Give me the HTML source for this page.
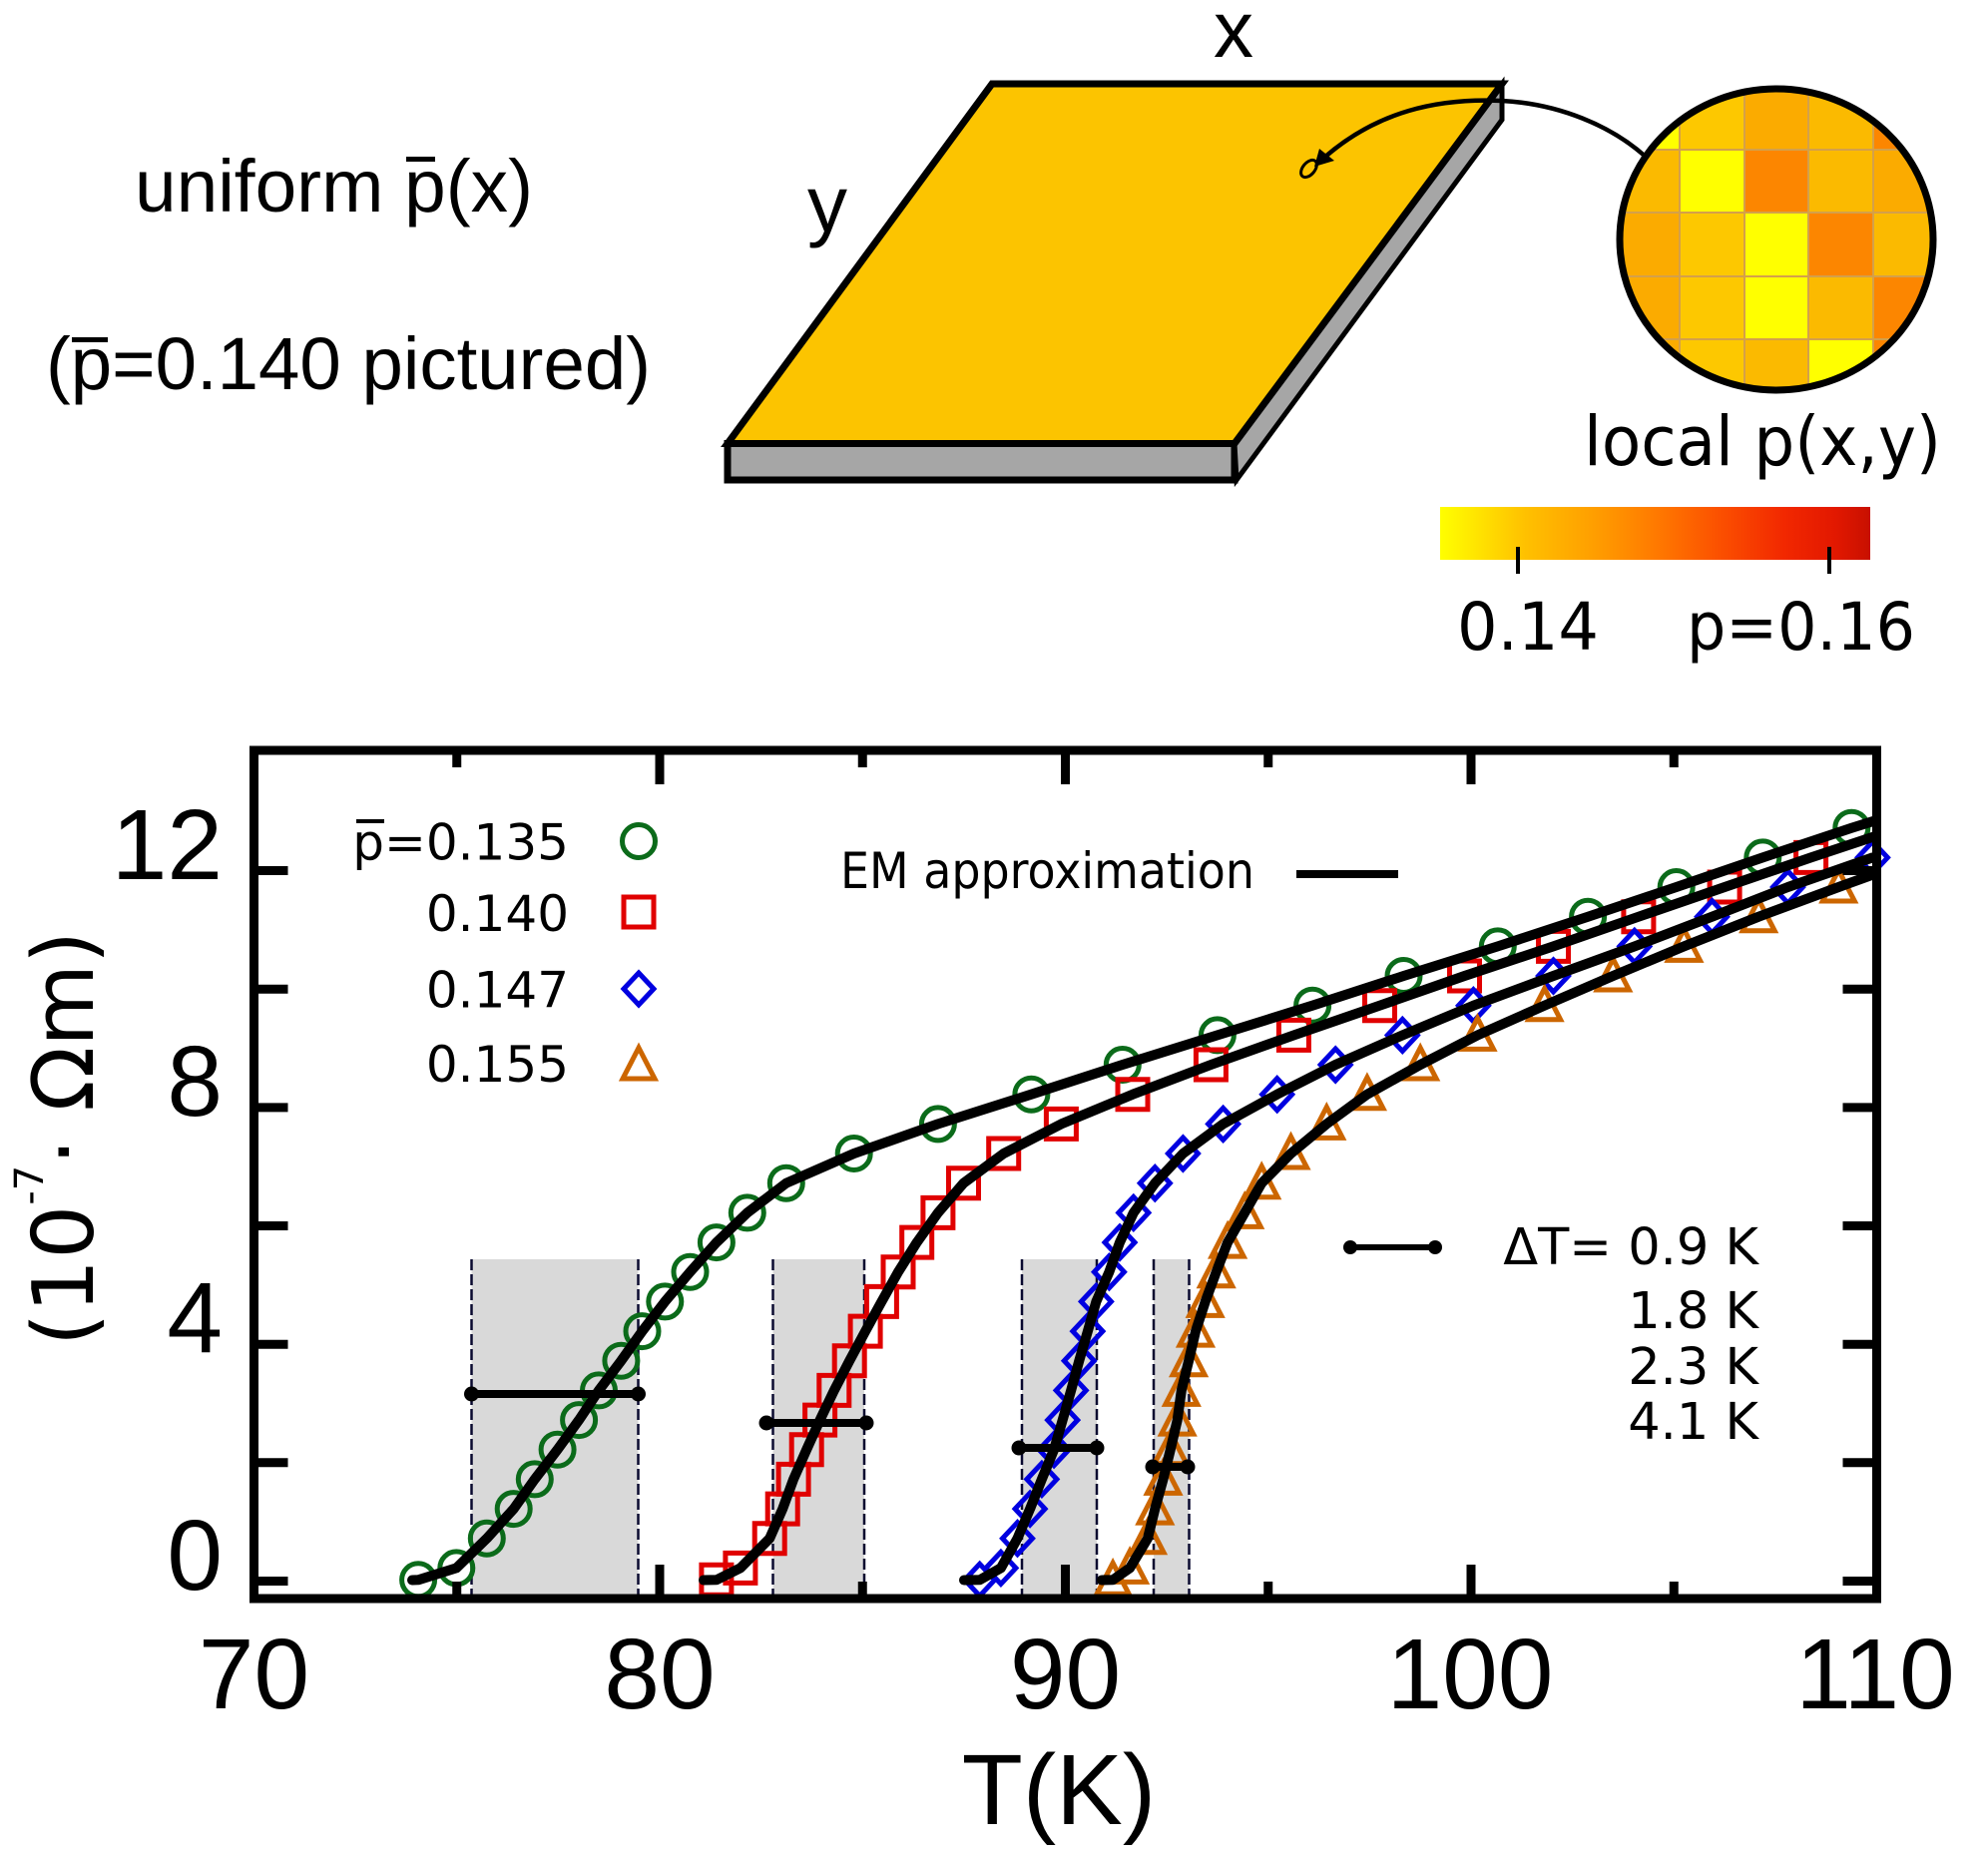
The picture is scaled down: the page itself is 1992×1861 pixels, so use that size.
<!DOCTYPE html>
<html><head><meta charset="utf-8"><style>
html,body{margin:0;padding:0;background:#fff;}
svg{display:block;}
.lib{font-family:"Liberation Sans",Arial,sans-serif;}
.dv{font-family:"DejaVu Sans","Liberation Sans",sans-serif;}
</style></head><body>
<svg width="1992" height="1861" viewBox="0 0 1992 1861" xmlns="http://www.w3.org/2000/svg">
<defs>
<clipPath id="circ"><ellipse cx="1780" cy="240" rx="157" ry="151"/></clipPath>
<clipPath id="plot"><rect x="254.5" y="752" width="1626" height="850"/></clipPath>
<linearGradient id="cb" x1="0" x2="1" y1="0" y2="0">
<stop offset="0" stop-color="#ffff00"/><stop offset="0.08" stop-color="#ffe600"/><stop offset="0.2" stop-color="#ffc000"/><stop offset="0.35" stop-color="#ffa000"/><stop offset="0.5" stop-color="#ff7a00"/><stop offset="0.65" stop-color="#fb5000"/><stop offset="0.8" stop-color="#f22800"/><stop offset="0.92" stop-color="#e21800"/><stop offset="1" stop-color="#c81000"/>
</linearGradient>
</defs>
<rect width="1992" height="1861" fill="#fff"/>

<!-- left texts -->
<text class="lib" x="135" y="212" font-size="74" textLength="399" lengthAdjust="spacingAndGlyphs">uniform p(x)</text>
<rect x="407" y="157" width="29" height="5" fill="#000"/>
<text class="lib" x="46" y="390" font-size="74" textLength="606" lengthAdjust="spacingAndGlyphs">(p=0.140 pictured)</text>
<rect x="72" y="338" width="36" height="5" fill="#000"/>

<!-- slab -->
<polygon points="729,444.5 1237,444.5 1237,481 729,481" fill="#a6a6a6" stroke="#000" stroke-width="7" stroke-linejoin="miter"/>
<polygon points="1505,84 1505,120 1239,481 1237,444.5" fill="#a6a6a6" stroke="#000" stroke-width="5"/>
<polygon points="994,84 1505,84 1237,444.5 729,444.5" fill="#fcc400" stroke="#000" stroke-width="7" stroke-linejoin="miter"/>
<text class="lib" x="1236" y="57" font-size="80" text-anchor="middle">x</text>
<text class="lib" x="829" y="232" font-size="80" text-anchor="middle">y</text>

<!-- arrow curve -->
<path d="M1328,157 C1380,112 1440,98 1505,101 C1562,104 1615,126 1650,158" fill="none" stroke="#000" stroke-width="4.5"/>
<polygon points="1317,167 1322,149 1337,161" fill="#000"/>
<ellipse cx="1311.5" cy="169" rx="10" ry="6" transform="rotate(-50 1311.5 169)" fill="none" stroke="#000" stroke-width="3"/>

<!-- circle zoom -->
<g clip-path="url(#circ)">
<rect x="1600" y="70" width="360" height="350" fill="#fbba00"/>
<rect x="1619" y="87" width="64" height="63" fill="#ffff00"/>
<rect x="1683" y="87" width="65" height="63" fill="#fdc800"/>
<rect x="1748" y="87" width="64" height="63" fill="#fbab00"/>
<rect x="1812" y="87" width="65" height="63" fill="#fbba00"/>
<rect x="1877" y="87" width="64" height="63" fill="#fc8600"/>
<rect x="1619" y="150" width="64" height="63" fill="#fbba00"/>
<rect x="1683" y="150" width="65" height="63" fill="#ffff00"/>
<rect x="1748" y="150" width="64" height="63" fill="#fc8600"/>
<rect x="1812" y="150" width="65" height="63" fill="#fbba00"/>
<rect x="1877" y="150" width="64" height="63" fill="#fbab00"/>
<rect x="1619" y="213" width="64" height="64" fill="#fbab00"/>
<rect x="1683" y="213" width="65" height="64" fill="#fdc800"/>
<rect x="1748" y="213" width="64" height="64" fill="#ffff00"/>
<rect x="1812" y="213" width="65" height="64" fill="#fc8600"/>
<rect x="1877" y="213" width="64" height="64" fill="#fbba00"/>
<rect x="1619" y="277" width="64" height="63" fill="#fbab00"/>
<rect x="1683" y="277" width="65" height="63" fill="#fdc800"/>
<rect x="1748" y="277" width="64" height="63" fill="#ffff00"/>
<rect x="1812" y="277" width="65" height="63" fill="#fbba00"/>
<rect x="1877" y="277" width="64" height="63" fill="#fc8600"/>
<rect x="1619" y="340" width="64" height="63" fill="#fbab00"/>
<rect x="1683" y="340" width="65" height="63" fill="#fdc800"/>
<rect x="1748" y="340" width="64" height="63" fill="#fbba00"/>
<rect x="1812" y="340" width="65" height="63" fill="#ffff00"/>
<rect x="1877" y="340" width="64" height="63" fill="#fc8600"/>
<g stroke="#d4a04a" stroke-width="2">
<line x1="1683" y1="70" x2="1683" y2="420"/><line x1="1748" y1="70" x2="1748" y2="420"/><line x1="1812" y1="70" x2="1812" y2="420"/><line x1="1877" y1="70" x2="1877" y2="420"/>
<line x1="1600" y1="150" x2="1960" y2="150"/><line x1="1600" y1="213" x2="1960" y2="213"/><line x1="1600" y1="277" x2="1960" y2="277"/><line x1="1600" y1="340" x2="1960" y2="340"/>
</g>
</g>
<ellipse cx="1780" cy="240" rx="157" ry="151" fill="none" stroke="#000" stroke-width="7"/>

<text class="dv" x="1587" y="466" font-size="69" textLength="358" lengthAdjust="spacingAndGlyphs">local p(x,y)</text>

<!-- colorbar -->
<rect x="1443" y="508" width="431" height="53" fill="url(#cb)"/>
<rect x="1519" y="548" width="4" height="27" fill="#000"/>
<rect x="1831" y="548" width="4" height="27" fill="#000"/>
<text class="dv" x="1460" y="651" font-size="66" textLength="142" lengthAdjust="spacingAndGlyphs">0.14</text>
<text class="dv" x="1690" y="651" font-size="66" textLength="229" lengthAdjust="spacingAndGlyphs">p=0.16</text>

<!-- ======== PLOT ======== -->
<g fill="#d9d9d9">
<rect x="472.5" y="1262" width="167" height="336"/>
<rect x="774.5" y="1262" width="91.5" height="336"/>
<rect x="1024" y="1262" width="75" height="336"/>
<rect x="1156" y="1262" width="35.5" height="336"/>
</g>
<g stroke="#0a0a30" stroke-width="2.5" stroke-dasharray="11 4">
<line x1="472.5" y1="1262" x2="472.5" y2="1598"/><line x1="639.5" y1="1262" x2="639.5" y2="1598"/>
<line x1="774.5" y1="1262" x2="774.5" y2="1598"/><line x1="866" y1="1262" x2="866" y2="1598"/>
<line x1="1024" y1="1262" x2="1024" y2="1598"/><line x1="1099" y1="1262" x2="1099" y2="1598"/>
<line x1="1156" y1="1262" x2="1156" y2="1598"/><line x1="1191.5" y1="1262" x2="1191.5" y2="1598"/>
</g>

<!-- markers -->
<g fill="none" stroke="#0b6b1a" stroke-width="5">
<circle cx="419.1" cy="1583.3" r="16.5"/><circle cx="457.3" cy="1571.4" r="16.5"/><circle cx="487.8" cy="1541.7" r="16.5"/><circle cx="514.7" cy="1512.1" r="16.5"/><circle cx="535.8" cy="1482.4" r="16.5"/><circle cx="558.6" cy="1452.7" r="16.5"/><circle cx="580.1" cy="1423.1" r="16.5"/><circle cx="600" cy="1393.4" r="16.5"/><circle cx="622.4" cy="1363.7" r="16.5"/><circle cx="643.5" cy="1334.1" r="16.5"/><circle cx="666.3" cy="1304.4" r="16.5"/><circle cx="691.5" cy="1274.7" r="16.5"/><circle cx="717.9" cy="1245.1" r="16.5"/><circle cx="748.8" cy="1215.4" r="16.5"/><circle cx="787.8" cy="1185.7" r="16.5"/><circle cx="855.7" cy="1156" r="16.5"/><circle cx="939.9" cy="1126.4" r="16.5"/><circle cx="1033.4" cy="1096.7" r="16.5"/><circle cx="1124.8" cy="1067" r="16.5"/><circle cx="1219.9" cy="1037.4" r="16.5"/><circle cx="1315.1" cy="1007.7" r="16.5"/><circle cx="1406.5" cy="978" r="16.5"/><circle cx="1500.8" cy="948.4" r="16.5"/><circle cx="1591.1" cy="918.7" r="16.5"/><circle cx="1679.7" cy="889" r="16.5"/><circle cx="1766.3" cy="859.4" r="16.5"/><circle cx="1855.3" cy="829.7" r="16.5"/>
</g>
<path fill="none" stroke="#e00000" stroke-width="5" d="M702.9,1568.3h30v30h-30zM726.9,1556.4h30v30h-30zM756.2,1526.7h30v30h-30zM769.2,1497.1h30v30h-30zM780.1,1467.4h30v30h-30zM793.2,1437.7h30v30h-30zM806.6,1408.1h30v30h-30zM820.8,1378.4h30v30h-30zM836.2,1348.7h30v30h-30zM852.1,1319.1h30v30h-30zM868.4,1289.4h30v30h-30zM885,1259.7h30v30h-30zM903.7,1230.1h30v30h-30zM924.9,1200.4h30v30h-30zM950.5,1170.7h30v30h-30zM990.7,1141h30v30h-30zM1048.4,1111.4h30v30h-30zM1120,1081.7h30v30h-30zM1198.4,1052h30v30h-30zM1281.4,1022.4h30v30h-30zM1367.5,992.7h30v30h-30zM1452.5,963h30v30h-30zM1541.5,933.4h30v30h-30zM1626.9,903.7h30v30h-30zM1713.1,874h30v30h-30zM1799.6,844.4h30v30h-30z"/>
<path fill="none" stroke="#0000e0" stroke-width="5" stroke-linejoin="miter" d="M981.7,1567.3l15,16l-15,16l-15,-16zM1002.9,1555.4l15,16l-15,16l-15,-16zM1019.5,1525.7l15,16l-15,16l-15,-16zM1032.1,1496.1l15,16l-15,16l-15,-16zM1043.9,1466.4l15,16l-15,16l-15,-16zM1056.1,1436.7l15,16l-15,16l-15,-16zM1064.7,1407.1l15,16l-15,16l-15,-16zM1073.2,1377.4l15,16l-15,16l-15,-16zM1081.3,1347.7l15,16l-15,16l-15,-16zM1089.9,1318.1l15,16l-15,16l-15,-16zM1098.4,1288.4l15,16l-15,16l-15,-16zM1111.4,1258.7l15,16l-15,16l-15,-16zM1122,1229.1l15,16l-15,16l-15,-16zM1135.8,1199.4l15,16l-15,16l-15,-16zM1157.3,1169.7l15,16l-15,16l-15,-16zM1185.4,1140l15,16l-15,16l-15,-16zM1225.6,1110.4l15,16l-15,16l-15,-16zM1279.7,1080.7l15,16l-15,16l-15,-16zM1338.2,1051l15,16l-15,16l-15,-16zM1405.3,1021.4l15,16l-15,16l-15,-16zM1476.4,991.7l15,16l-15,16l-15,-16zM1556.5,962l15,16l-15,16l-15,-16zM1637.8,932.4l15,16l-15,16l-15,-16zM1715.5,902.7l15,16l-15,16l-15,-16zM1791.5,873l15,16l-15,16l-15,-16zM1876.4,843.4l15,16l-15,16l-15,-16z"/>
<path fill="none" stroke="#cc6600" stroke-width="5" d="M1115.1,1566.3l16,31h-32zM1132.1,1554.4l16,31h-32zM1150,1524.7l16,31h-32zM1157.3,1495.1l16,31h-32zM1165.5,1465.4l16,31h-32zM1172.8,1435.7l16,31h-32zM1179.7,1406.1l16,31h-32zM1183.8,1376.4l16,31h-32zM1191.1,1346.7l16,31h-32zM1198,1317.1l16,31h-32zM1207.7,1287.4l16,31h-32zM1218.7,1257.7l16,31h-32zM1230.1,1228.1l16,31h-32zM1247.2,1198.4l16,31h-32zM1264.2,1168.7l16,31h-32zM1293.5,1139l16,31h-32zM1329.3,1109.4l16,31h-32zM1369.9,1079.7l16,31h-32zM1423.2,1050l16,31h-32zM1480.5,1020.4l16,31h-32zM1547.6,990.7l16,31h-32zM1616.3,961l16,31h-32zM1687.4,931.4l16,31h-32zM1762.2,901.7l16,31h-32zM1842.3,872l16,31h-32z"/>

<!-- EM curves -->
<g clip-path="url(#plot)" fill="none" stroke="#000" stroke-width="10" stroke-linejoin="round" stroke-linecap="round">
<polyline points="413,1583.5 419.1,1583.3 457.3,1571.4 487.8,1541.7 514.7,1512.1 535.8,1482.4 558.6,1452.7 580.1,1423.1 600,1393.4 622.4,1363.7 643.5,1334.1 666.3,1304.4 691.5,1274.7 717.9,1245.1 748.8,1215.4 787.8,1185.7 855.7,1156 939.9,1126.4 1033.4,1096.7 1124.8,1067 1219.9,1037.4 1315.1,1007.7 1406.5,978 1500.8,948.4 1591.1,918.7 1679.7,889 1766.3,859.4 1855.3,829.7 1885,820.5"/>
<polyline points="705,1583.5 717.9,1583.3 741.9,1571.4 771.2,1541.7 784.2,1512.1 795.1,1482.4 808.2,1452.7 821.6,1423.1 835.8,1393.4 851.2,1363.7 867.1,1334.1 883.4,1304.4 900,1274.7 918.7,1245.1 939.9,1215.4 965.5,1185.7 1005.7,1156 1063.4,1126.4 1135,1096.7 1213.4,1067 1296.4,1037.4 1382.5,1007.7 1467.5,978 1556.5,948.4 1641.9,918.7 1728.1,889 1814.6,859.4 1885,836"/>
<polyline points="966,1583.5 981.7,1583.3 1002.9,1571.4 1019.5,1541.7 1032.1,1512.1 1043.9,1482.4 1056.1,1452.7 1064.7,1423.1 1073.2,1393.4 1081.3,1363.7 1089.9,1334.1 1098.4,1304.4 1111.4,1274.7 1122,1245.1 1135.8,1215.4 1157.3,1185.7 1185.4,1156 1225.6,1126.4 1279.7,1096.7 1338.2,1067 1405.3,1037.4 1476.4,1007.7 1556.5,978 1637.8,948.4 1715.5,918.7 1791.5,889 1876.4,859.4 1885,857"/>
<polyline points="1104,1583.5 1115.1,1583.3 1132.1,1571.4 1150,1541.7 1157.3,1512.1 1165.5,1482.4 1172.8,1452.7 1179.7,1423.1 1183.8,1393.4 1191.1,1363.7 1198,1334.1 1207.7,1304.4 1218.7,1274.7 1230.1,1245.1 1247.2,1215.4 1264.2,1185.7 1293.5,1156 1329.3,1126.4 1369.9,1096.7 1423.2,1067 1480.5,1037.4 1547.6,1007.7 1616.3,978 1687.4,948.4 1762.2,918.7 1842.3,889 1885,873.5"/>
</g>

<!-- error bars -->
<g stroke="#000" stroke-width="8">
<line x1="472.5" y1="1397" x2="639.5" y2="1397"/>
<line x1="768" y1="1426" x2="868" y2="1426"/>
<line x1="1021" y1="1451" x2="1099" y2="1451"/>
<line x1="1155" y1="1470" x2="1190" y2="1470"/>
</g>
<g fill="#000">
<circle cx="472.5" cy="1397" r="7.5"/><circle cx="639.5" cy="1397" r="7.5"/>
<circle cx="768" cy="1426" r="7.5"/><circle cx="868" cy="1426" r="7.5"/>
<circle cx="1021" cy="1451" r="7.5"/><circle cx="1099" cy="1451" r="7.5"/>
<circle cx="1155" cy="1470" r="7.5"/><circle cx="1190" cy="1470" r="7.5"/>
</g>

<!-- frame & ticks -->
<rect x="254.5" y="752" width="1626" height="850" fill="none" stroke="#000" stroke-width="9"/>
<g stroke="#000" stroke-width="9">
<line x1="661" y1="1602" x2="661" y2="1568"/><line x1="1067.5" y1="1602" x2="1067.5" y2="1568"/><line x1="1474" y1="1602" x2="1474" y2="1568"/>
<line x1="457.75" y1="1602" x2="457.75" y2="1585"/><line x1="864.25" y1="1602" x2="864.25" y2="1585"/><line x1="1270.75" y1="1602" x2="1270.75" y2="1585"/><line x1="1677.25" y1="1602" x2="1677.25" y2="1585"/>
<line x1="661" y1="752" x2="661" y2="786"/><line x1="1067.5" y1="752" x2="1067.5" y2="786"/><line x1="1474" y1="752" x2="1474" y2="786"/>
<line x1="457.75" y1="752" x2="457.75" y2="769"/><line x1="864.25" y1="752" x2="864.25" y2="769"/><line x1="1270.75" y1="752" x2="1270.75" y2="769"/><line x1="1677.25" y1="752" x2="1677.25" y2="769"/>
<line x1="254.5" y1="1584.5" x2="288.5" y2="1584.5"/><line x1="254.5" y1="1465.8" x2="288.5" y2="1465.8"/><line x1="254.5" y1="1347.2" x2="288.5" y2="1347.2"/><line x1="254.5" y1="1228.5" x2="288.5" y2="1228.5"/><line x1="254.5" y1="1109.9" x2="288.5" y2="1109.9"/><line x1="254.5" y1="991.2" x2="288.5" y2="991.2"/><line x1="254.5" y1="872.5" x2="288.5" y2="872.5"/>
<line x1="1880.5" y1="1584.5" x2="1846.5" y2="1584.5"/><line x1="1880.5" y1="1465.8" x2="1846.5" y2="1465.8"/><line x1="1880.5" y1="1347.2" x2="1846.5" y2="1347.2"/><line x1="1880.5" y1="1228.5" x2="1846.5" y2="1228.5"/><line x1="1880.5" y1="1109.9" x2="1846.5" y2="1109.9"/><line x1="1880.5" y1="991.2" x2="1846.5" y2="991.2"/><line x1="1880.5" y1="872.5" x2="1846.5" y2="872.5"/>
</g>

<!-- tick labels -->
<g class="lib" font-size="100" text-anchor="end">
<text x="223" y="881">12</text>
<text x="223" y="1118">8</text>
<text x="223" y="1355">4</text>
<text x="223" y="1593">0</text>
</g>
<g class="lib" font-size="100" text-anchor="middle">
<text x="254.5" y="1712">70</text>
<text x="661" y="1712">80</text>
<text x="1067.5" y="1712">90</text>
<text x="1473" y="1712">100</text>
<text x="1879" y="1712">110</text>
</g>
<text class="lib" x="1061" y="1828" font-size="100" text-anchor="middle">T(K)</text>
<text class="dv" transform="translate(93,1349) rotate(-90)" font-size="85">(10<tspan font-size="40" dy="-50">-7</tspan><tspan dy="50">· Ωm)</tspan></text>

<!-- legend -->
<g class="dv" font-size="50" text-anchor="end">
<text x="570" y="861.5">p=0.135</text>
<text x="570" y="933">0.140</text>
<text x="570" y="1009.5">0.147</text>
<text x="570" y="1084">0.155</text>
</g>
<rect x="357" y="821" width="28" height="4" fill="#000"/>
<circle cx="640" cy="843" r="16.5" fill="none" stroke="#0b6b1a" stroke-width="5"/>
<rect x="625" y="899" width="30" height="30" fill="none" stroke="#e00000" stroke-width="5"/>
<path d="M640,975l15,16l-15,16l-15,-16z" fill="none" stroke="#0000e0" stroke-width="5"/>
<path d="M640,1050l16,31h-32z" fill="none" stroke="#cc6600" stroke-width="5"/>

<text class="dv" x="842" y="890" font-size="50" textLength="415" lengthAdjust="spacingAndGlyphs">EM approximation</text>
<line x1="1299" y1="876" x2="1401" y2="876" stroke="#000" stroke-width="8"/>

<line x1="1353" y1="1250" x2="1438" y2="1250" stroke="#000" stroke-width="6"/>
<circle cx="1353" cy="1250" r="7" fill="#000"/><circle cx="1438" cy="1250" r="7" fill="#000"/>
<g class="dv" font-size="51" text-anchor="end">
<text x="1762" y="1267">ΔT= 0.9 K</text>
<text x="1762" y="1331">1.8 K</text>
<text x="1762" y="1387">2.3 K</text>
<text x="1762" y="1442">4.1 K</text>
</g>
</svg>
</body></html>
